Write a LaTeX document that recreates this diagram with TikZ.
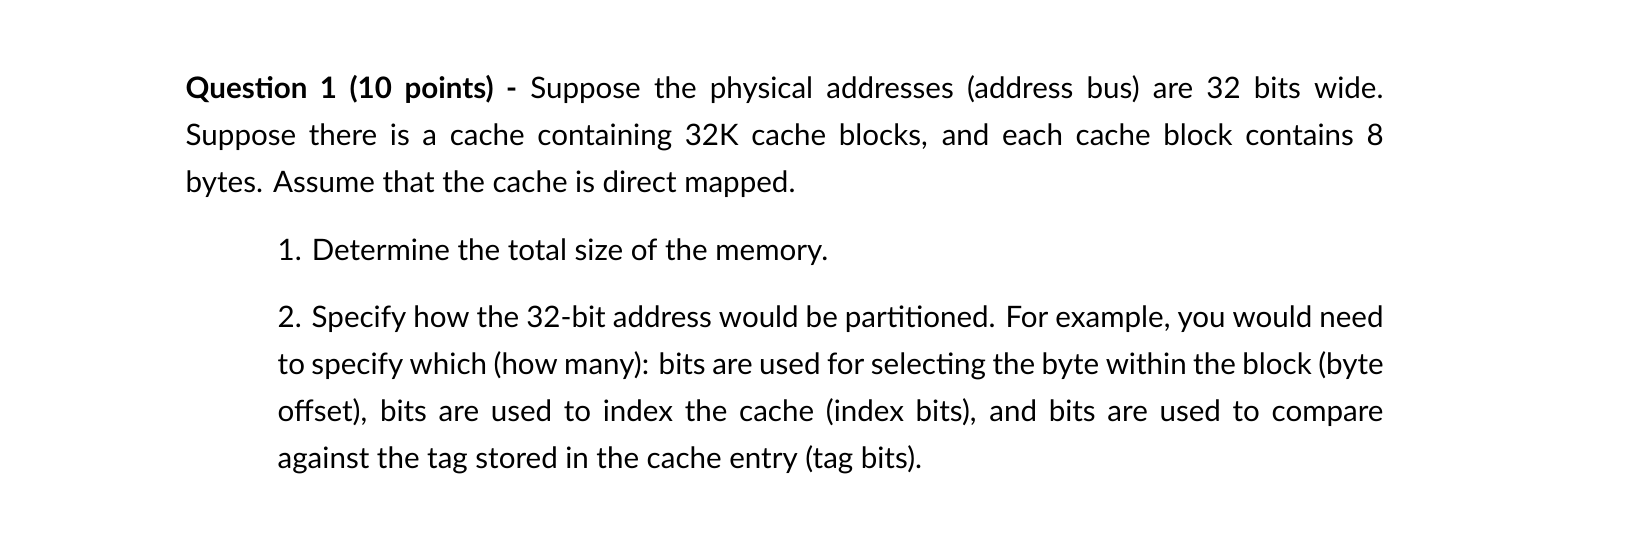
\documentclass[tikz,border=0pt]{standalone}
\usepackage{fontspec}
\setmainfont{Lato}
\begin{document}
\begin{tikzpicture}[x=0.01cm,y=-0.01cm,
  ln/.style={anchor=base west, inner sep=0pt, font=\fontsize{8.4pt}{10pt}\selectfont}]
\useasboundingbox (0,0) rectangle (1640,545);
\node[ln] (l1) at (185,98) {\makebox[11.97cm][s]{\textbf{Question 1 (10 points) -} Suppose the physical addresses (address bus) are 32 bits wide.}};
\node[ln] (l2) at (185,145) {\makebox[11.97cm][s]{Suppose there is a cache containing 32K cache blocks, and each cache block contains 8}};
\node[ln] (l3) at (185,192) {bytes. Assume that the cache is direct mapped.};
\node[ln] (i1) at (277,260) {1. Determine the total size of the memory.};
\node[ln] (i2a) at (277,327) {\makebox[11.05cm][s]{2. Specify how the 32-bit address would be partitioned. For example, you would need}};
\node[ln] (i2b) at (277,374) {\makebox[11.05cm][s]{to specify which (how many): bits are used for selecting the byte within the block (byte}};
\node[ln] (i2c) at (277,421) {\makebox[11.05cm][s]{offset), bits are used to index the cache (index bits), and bits are used to compare}};
\node[ln] (i2d) at (277,468) {against the tag stored in the cache entry (tag bits).};
\end{tikzpicture}
\end{document}
